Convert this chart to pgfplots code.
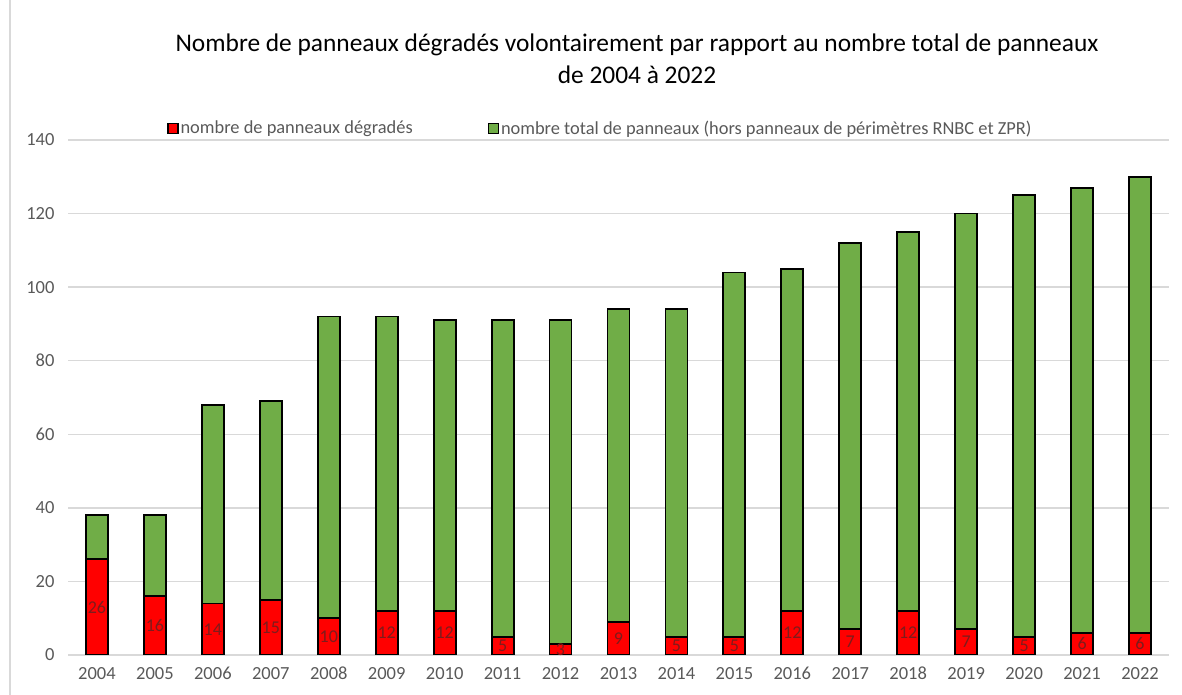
\documentclass[border=0pt]{standalone}
\usepackage{fontspec}
\setmainfont{Carlito}
\usepackage{pgfplots}
\usepackage{pgfplotstable}
\pgfplotsset{compat=1.18}
\definecolor{barred}{RGB}{255,0,0}
\definecolor{bargreen}{RGB}{112,173,71}
\definecolor{labred}{RGB}{125,28,28}
\definecolor{txtgray}{RGB}{89,89,89}
\definecolor{gridgray}{RGB}{217,217,217}

% year index, total panels, damaged panels
\pgfplotstableread{
x year total red
0 2004 38 26
1 2005 38 16
2 2006 68 14
3 2007 69 15
4 2008 92 10
5 2009 92 12
6 2010 91 12
7 2011 91 5
8 2012 91 3
9 2013 94 9
10 2014 94 5
11 2015 104 5
12 2016 105 12
13 2017 112 7
14 2018 115 12
15 2019 120 7
16 2020 125 5
17 2021 127 6
18 2022 130 6
}\data

\begin{document}
\begin{tikzpicture}[x=1pt,y=1pt]
\useasboundingbox (0,0) rectangle (1182,695);
\draw[gridgray, line width=1.2pt] (10,0) -- (10,695);
\node[font=\fontsize{25.4}{30}\selectfont, text=black] at (637,650) {Nombre de panneaux dégradés volontairement par rapport au nombre total de panneaux};
\node[font=\fontsize{25.4}{30}\selectfont, text=black] at (637,620) {de 2004 à 2022};
\begin{axis}[
  at={(68pt,40pt)}, anchor=south west,
  scale only axis,
  width=1101pt, height=515pt,
  xmin=-0.5, xmax=18.5,
  ymin=0, ymax=140,
  ytick={0,20,...,140},
  xtick=data,
  xticklabels={2004,2005,2006,2007,2008,2009,2010,2011,2012,2013,2014,2015,2016,2017,2018,2019,2020,2021,2022},
  ymajorgrids,
  grid style={gridgray, line width=1.4pt},
  axis line style={draw=none},
  major tick length=0pt,
  tick label style={font=\fontsize{18.5}{22}\selectfont, text=txtgray},
  /pgf/number format/assume math mode=true,
  yticklabel style={xshift=-10pt},
  xticklabel style={yshift=-9pt, text height=12pt, text depth=0pt},
  legend style={at={(0.09,1.023)}, anchor=west, draw=none, fill=none,
    inner sep=0pt, font=\fontsize{18.4}{22}\selectfont, text=txtgray,
    /tikz/every even column/.append style={column sep=73pt}},
  legend columns=2,
  legend cell align=left,
  legend image code/.code={\draw[#1, line width=1.3pt] (0pt,-5pt) rectangle (10pt,5pt);},
]
\addlegendimage{fill=barred, draw=black}
\addlegendentry{nombre de panneaux dégradés}
\addlegendimage{fill=bargreen, draw=black}
\addlegendentry{nombre total de panneaux (hors panneaux de périmètres RNBC et ZPR)}

\addplot[forget plot, ybar, bar shift=0pt, bar width=22pt, fill=bargreen, draw=black, line width=1.8pt]
  table[x=x, y=total] {\data};
\addplot[forget plot, ybar, bar shift=0pt, bar width=22pt, fill=barred, draw=black, line width=1.8pt]
  table[x=x, y=red] {\data};
\addplot[forget plot, only marks, mark=none, point meta=explicit,
  nodes near coords, nodes near coords align=center,
  every node near coord/.append style={font=\fontsize{18}{22}\selectfont, text=labred, anchor=center}]
  table[x=x, y expr=\thisrow{red}/2, meta=red] {\data};
\end{axis}
\end{tikzpicture}
\end{document}
